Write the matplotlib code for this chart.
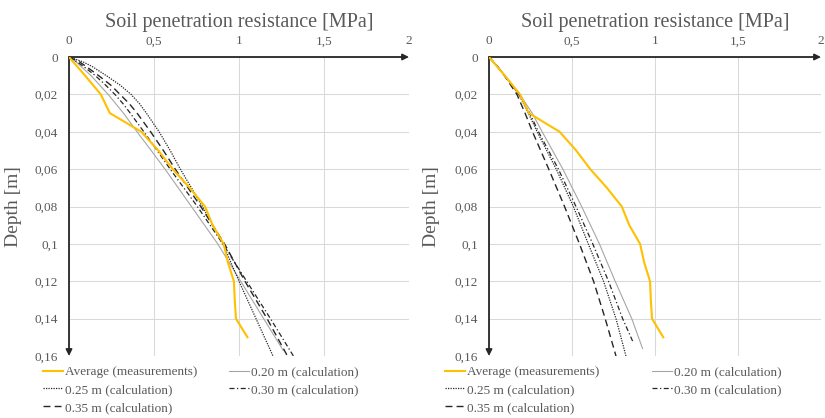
import matplotlib
matplotlib.use("Agg")
import matplotlib.pyplot as plt
from matplotlib.ticker import FuncFormatter

plt.rcParams["font.family"] = ["Liberation Serif", "DejaVu Serif"]

# measured average (same in both panels)
avg_depth = [0, 0.01, 0.02, 0.03, 0.04, 0.05, 0.06, 0.07, 0.08, 0.09, 0.10,
             0.11, 0.12, 0.13, 0.14, 0.15]
avg_res = [0, 0.095, 0.187, 0.240, 0.425, 0.525, 0.61, 0.71, 0.80, 0.845, 0.91,
           0.935, 0.97, 0.975, 0.982, 1.05]

# left panel, calculated curves
left_depth = [0, 0.0025, 0.005, 0.01, 0.015, 0.02, 0.025, 0.03, 0.04, 0.05, 0.06,
              0.08, 0.10, 0.12, 0.14, 0.16]
left_020 = [0, 0.04, 0.07, 0.13, 0.18, 0.23, 0.275, 0.32, 0.40, 0.483, 0.565,
            0.72, 0.875, 1.01, 1.145, 1.26]
left_025 = [0, 0.08, 0.135, 0.22, 0.30, 0.365, 0.415, 0.455, 0.53, 0.595, 0.655,
            0.785, 0.905, 1.0, 1.10, 1.20]
left_030 = [0, 0.045, 0.085, 0.155, 0.215, 0.27, 0.318, 0.36, 0.44, 0.518, 0.595,
            0.755, 0.905, 1.045, 1.185, 1.32]
left_035 = [0, 0.06, 0.10, 0.175, 0.245, 0.30, 0.355, 0.40, 0.48, 0.555, 0.625,
            0.775, 0.915, 1.035, 1.165, 1.285]
left_020_depth = left_depth[:-1] + [0.157]

# right panel, calculated curves
right_depth = [0, 0.005, 0.01, 0.02, 0.03, 0.04, 0.06, 0.08, 0.10, 0.12, 0.14, 0.16]
right_020 = [0, 0.05, 0.095, 0.185, 0.26, 0.32, 0.445, 0.558, 0.665, 0.76, 0.86, 0.925]
right_025 = [0, 0.05, 0.095, 0.18, 0.237, 0.29, 0.405, 0.508, 0.598, 0.69, 0.765, 0.825]
right_030 = [0, 0.05, 0.095, 0.18, 0.245, 0.298, 0.418, 0.524, 0.625, 0.72, 0.805, 0.865]
right_035 = [0, 0.05, 0.093, 0.168, 0.217, 0.262, 0.36, 0.455, 0.545, 0.63, 0.70, 0.765]
right_020_depth = right_depth[:-1] + [0.156]
right_030_depth = right_depth[:-1] + [0.152]

x_ticks = [0, 0.5, 1, 1.5, 2]
y_ticks = [0, 0.02, 0.04, 0.06, 0.08, 0.10, 0.12, 0.14, 0.16]

TXT = "#595959"
GRID = "#d9d9d9"
ORANGE = "#ffc000"
DARK = "#262626"


def comma(v, _pos=None):
    return "{:g}".format(round(v, 4)).replace(".", ",")


def draw_panel(ax, c020, c025, c030, c035, d020, dcalc, d030):
    ax.plot(avg_res, avg_depth, color=ORANGE, lw=1.5, label="Average (measurements)", zorder=5)
    ax.plot(c020, d020, color="#a6a6a6", lw=0.8, label="0.20 m (calculation)", zorder=4)
    ax.plot(c025, dcalc, color=DARK, lw=0.9, ls=(0, (1, 1)), label="0.25 m (calculation)", zorder=4)
    ax.plot(c030, d030, color=DARK, lw=0.9, ls=(0, (4, 2, 1, 2)), label="0.30 m (calculation)", zorder=4)
    ax.plot(c035, dcalc, color=DARK, lw=1.0, ls=(0, (5, 3)), label="0.35 m (calculation)", zorder=4)

    ax.set_xlim(0, 2)
    ax.set_ylim(0.16, 0)
    ax.set_xticks(x_ticks)
    ax.set_yticks(y_ticks)
    ax.xaxis.set_major_formatter(FuncFormatter(comma))
    ax.yaxis.set_major_formatter(FuncFormatter(comma))
    ax.xaxis.tick_top()
    ax.tick_params(axis="both", length=0, labelsize=9.5, labelcolor=TXT)
    ax.tick_params(axis="x", pad=7)
    ax.tick_params(axis="y", pad=8)
    ax.grid(True, color=GRID, lw=0.75)
    ax.set_axisbelow(True)
    for s in ax.spines.values():
        s.set_visible(False)

    # axes drawn as arrows
    ax.annotate("", xy=(2, 0), xytext=(0, 0), annotation_clip=False,
                arrowprops=dict(arrowstyle="-|>", color=DARK, lw=1.3,
                                shrinkA=0, shrinkB=0, mutation_scale=9))
    ax.annotate("", xy=(0, 0.16), xytext=(0, 0), annotation_clip=False,
                arrowprops=dict(arrowstyle="-|>", color=DARK, lw=1.3,
                                shrinkA=0, shrinkB=0, mutation_scale=9))

    ax.text(0.5, 1.117, "Soil penetration resistance [MPa]", transform=ax.transAxes,
            ha="center", va="center", fontsize=14.5, color=TXT)
    ax.set_ylabel("Depth [m]", fontsize=14, color=TXT)


fig = plt.figure(figsize=(8.25, 4.18), dpi=100)
ax1 = fig.add_axes([69 / 825, 1 - 356 / 418, 340 / 825, 299 / 418])
ax2 = fig.add_axes([489 / 825, 1 - 356 / 418, 332 / 825, 299 / 418])

draw_panel(ax1, left_020, left_025, left_030, left_035, left_020_depth, left_depth, left_depth)
draw_panel(ax2, right_020, right_025, right_030, right_035, right_020_depth, right_depth, right_030_depth)
ax1.yaxis.set_label_coords(-0.138, 0.5)
ax2.yaxis.set_label_coords(-0.148, 0.5)

for ax, x0, colsp in [(ax1, 43 / 825, 2.4), (ax2, 445 / 825, 4.0)]:
    h, lab = ax.get_legend_handles_labels()
    order = [0, 2, 4, 1, 3]
    ax.legend([h[i] for i in order], [lab[i] for i in order], ncol=2,
              loc="upper left", bbox_to_anchor=(x0, 1 - 366 / 418),
              bbox_transform=fig.transFigure, frameon=False, fontsize=9.5,
              labelcolor=TXT, handlelength=1.5, handletextpad=0.15,
              borderpad=0, borderaxespad=0, labelspacing=0.42,
              columnspacing=colsp)

fig.savefig("out.png", dpi=100)
